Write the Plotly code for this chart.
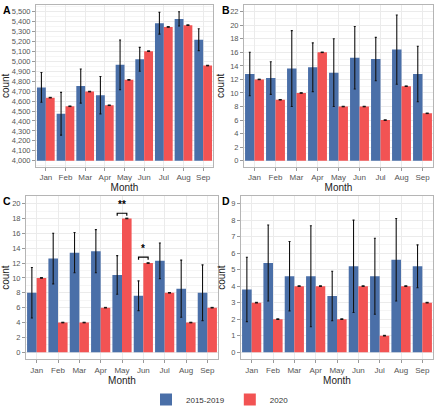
import plotly.graph_objects as go

months = ["Jan", "Feb", "Mar", "Apr", "May", "Jun", "Jul", "Aug", "Sep"]

a_blue = [4738, 4473, 4752, 4660, 4965, 5021, 5385, 5428, 5218]
a_blue_err = [150, 215, 172, 188, 250, 120, 110, 72, 110]
a_red = [4635, 4548, 4696, 4558, 4814, 5103, 5347, 5365, 4958]

b_blue = [12.8, 12.2, 13.6, 13.8, 13.0, 15.2, 15.0, 16.4, 12.8]
b_blue_err = [3.2, 2.4, 5.6, 3.6, 5.0, 4.6, 3.2, 5.1, 4.1]
b_red = [12, 9, 10, 16, 8, 8, 6, 11, 7]

c_blue = [8.0, 12.6, 13.4, 13.6, 10.4, 7.6, 12.3, 8.55, 8.0]
c_blue_err = [3.4, 3.4, 2.7, 2.9, 2.6, 2.0, 2.4, 3.85, 3.75]
c_red = [10, 4, 4, 6, 18, 12, 8, 4, 6]

d_blue = [3.8, 5.4, 4.6, 4.6, 3.4, 5.2, 4.6, 5.6, 5.2]
d_blue_err = [1.95, 2.3, 2.1, 3.06, 1.5, 2.8, 2.3, 2.5, 1.3]
d_red = [3, 2, 4, 4, 2, 4, 1, 4, 3]

series_names = ["2015-2019", "2020"]
BLUE = "#4A6FA8"
RED = "#F25353"
A_BASE = 4000

W, H = 440, 414


def xd(x0, x1):
    return [x0 / W, x1 / W]


def yd(y0, y1):
    return [1 - y1 / H, 1 - y0 / H]


panels = [
    dict(key="", letter="A", blue=a_blue, err=a_blue_err, red=a_red, red_err=3,
         base=A_BASE, rng=[3938, 5569], dtick=100, minor=50,
         xdom=xd(36, 213), ydom=yd(5, 171), fmt=",d", lx=1),
    dict(key="2", letter="B", blue=b_blue, err=b_blue_err, red=b_red, red_err=0.04,
         base=0, rng=[-0.9, 23.0], dtick=2, minor=1,
         xdom=xd(244, 433), ydom=yd(5, 171), fmt="d", lx=220),
    dict(key="3", letter="C", blue=c_blue, err=c_blue_err, red=c_red, red_err=0.04,
         base=0, rng=[-0.92, 21.0], dtick=2, minor=1,
         xdom=xd(26, 218), ydom=yd(201, 368), fmt="d", lx=1),
    dict(key="4", letter="D", blue=d_blue, err=d_blue_err, red=d_red, red_err=0.02,
         base=0, rng=[-0.42, 9.45], dtick=1, minor=0.5,
         xdom=xd(241, 433), ydom=yd(201, 368), fmt="d", lx=220),
]

fig = go.Figure()
layout = dict(
    width=W, height=H,
    margin=dict(l=0, r=0, t=0, b=0),
    paper_bgcolor="white", plot_bgcolor="white",
    barmode="group", bargap=0.1, bargroupgap=0,
    font=dict(family="Liberation Sans, Arial, sans-serif", color="#222"),
    showlegend=True,
    legend=dict(orientation="h", x=0.5, xanchor="center", y=-0.026, yanchor="bottom",
                font=dict(size=8, color="#333"), itemwidth=30, traceorder="normal"),
)
annotations = []
shapes = []

for i, p in enumerate(panels):
    k = p["key"]
    xa = "x" + k
    ya = "y" + k
    base = p["base"]
    fig.add_trace(go.Bar(
        x=months, y=[v - base for v in p["blue"]], base=base,
        name=series_names[0], marker=dict(color=BLUE, line=dict(width=0)),
        error_y=dict(type="data", array=p["err"], color="#111", thickness=1.1, width=1),
        xaxis=xa, yaxis=ya, showlegend=(i == 0), legendgroup="a",
    ))
    fig.add_trace(go.Bar(
        x=months, y=[v - base for v in p["red"]], base=base,
        name=series_names[1], marker=dict(color=RED, line=dict(width=0)),
        error_y=dict(type="data", array=[p["red_err"]] * len(months), color="#111",
                     thickness=1, width=1.5),
        xaxis=xa, yaxis=ya, showlegend=(i == 0), legendgroup="b",
    ))
    layout["xaxis" + k] = dict(
        domain=p["xdom"], anchor=ya, type="category",
        categoryorder="array", categoryarray=months,
        showgrid=True, gridcolor="#EBEBEB", gridwidth=1,
        showline=True, mirror=True, linecolor="#B5B5B5", linewidth=1,
        ticks="outside", ticklen=3, tickcolor="#999",
        tickfont=dict(size=8, color="#555"),
        title=dict(text="Month", font=dict(size=10, color="#222"), standoff=2),
        zeroline=False, fixedrange=True,
    )
    layout["yaxis" + k] = dict(
        domain=p["ydom"], anchor=xa, range=p["rng"],
        dtick=p["dtick"], tick0=0 if base == 0 else 4000, tickformat=p["fmt"],
        showgrid=True, gridcolor="#EBEBEB", gridwidth=1,
        minor=dict(dtick=p["minor"], showgrid=True, gridcolor="#F5F5F5", gridwidth=0.6),
        showline=True, mirror=True, linecolor="#B5B5B5", linewidth=1,
        ticks="outside", ticklen=3, tickcolor="#999",
        tickfont=dict(size=7.5, color="#555"),
        title=dict(text="count", font=dict(size=10, color="#222"), standoff=3),
        zeroline=False, fixedrange=True,
    )
    annotations.append(dict(
        text="<b>%s</b>" % p["letter"], xref="paper", yref="paper",
        x=p["lx"] / W, y=p["ydom"][1] + 3 / H, xanchor="left", yanchor="top",
        showarrow=False, font=dict(size=10.5, color="black"),
    ))

# significance brackets in panel C
sig = [("May", 4, 18.7, "**"), ("Jun", 5, 12.8, "*")]
for m, idx, yv, lbl in sig:
    x0, x1 = idx - 0.225, idx + 0.225
    shapes.append(dict(type="path", xref="x3", yref="y3",
                       path="M %f %f L %f %f L %f %f L %f %f" % (x0, yv - 0.35, x0, yv, x1, yv, x1, yv - 0.35),
                       line=dict(color="black", width=1.2)))
    annotations.append(dict(text="<b>%s</b>" % lbl, xref="x3", yref="y3", x=idx, y=yv + 0.15,
                            xanchor="center", yanchor="bottom", showarrow=False,
                            font=dict(size=10, color="black")))

layout["annotations"] = annotations
layout["shapes"] = shapes
fig.update_layout(**layout)
fig.write_html("out.html", config={"displayModeBar": False},
               post_script="document.body.style.margin='0';document.body.style.padding='0';")
